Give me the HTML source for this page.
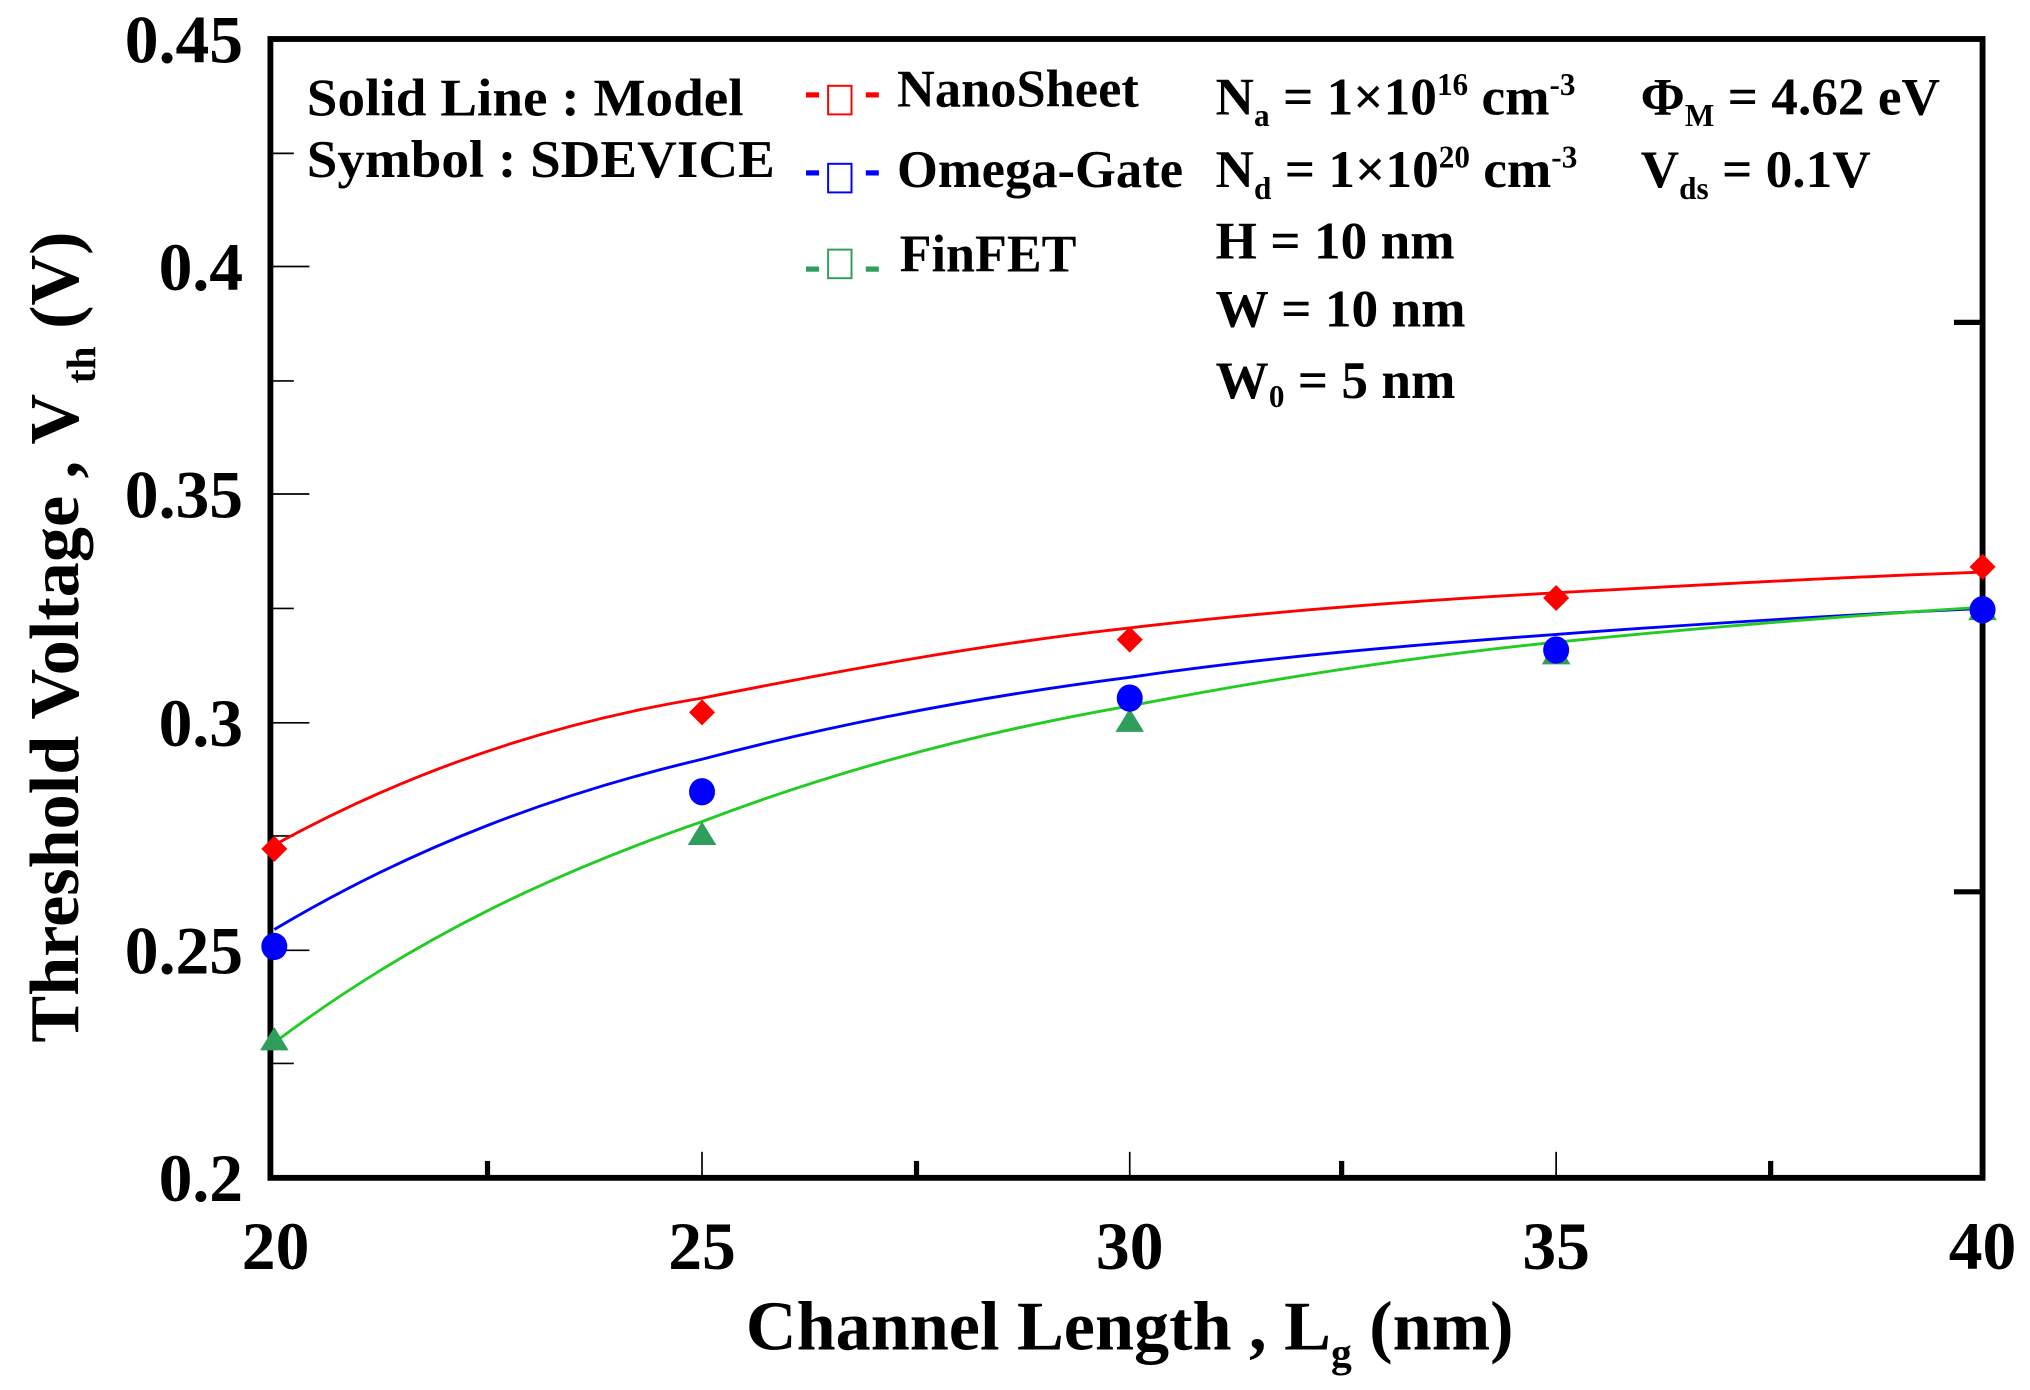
<!DOCTYPE html>
<html><head><meta charset="utf-8"><style>
html,body{margin:0;padding:0;background:#fff;}
svg{display:block;}
text{font-family:"Liberation Serif",serif;font-weight:bold;fill:#000;}
</style></head><body>
<svg width="2030" height="1390" viewBox="0 0 1561.5 1069.2" preserveAspectRatio="none" xmlns="http://www.w3.org/2000/svg">
<rect x="0" y="0" width="1561.5" height="1069.2" fill="#fff"/>
<rect x="208" y="30" width="1317" height="876" fill="none" stroke="#000" stroke-width="4.5"/>
<g stroke="#000" stroke-width="1.3">
<line x1="210" y1="118" x2="226" y2="118"/><line x1="210" y1="205" x2="238" y2="205"/>
<line x1="210" y1="293" x2="226" y2="293"/><line x1="210" y1="380" x2="238" y2="380"/>
<line x1="210" y1="468" x2="226" y2="468"/><line x1="210" y1="556" x2="238" y2="556"/>
<line x1="210" y1="643" x2="226" y2="643"/><line x1="210" y1="731" x2="238" y2="731"/>
<line x1="210" y1="818" x2="226" y2="818"/>
<line x1="540" y1="904" x2="540" y2="886"/><line x1="869" y1="904" x2="869" y2="886"/><line x1="1197" y1="904" x2="1197" y2="886"/>
</g>
<g stroke="#000" stroke-width="4">
<line x1="1523" y1="248" x2="1503" y2="248"/><line x1="1523" y1="686" x2="1503" y2="686"/>
<line x1="375" y1="904" x2="375" y2="893"/><line x1="705" y1="904" x2="705" y2="893"/>
<line x1="1032" y1="904" x2="1032" y2="893"/><line x1="1362" y1="904" x2="1362" y2="893"/>
</g>
<g font-size="52" text-anchor="end">
<text x="187" y="48">0.45</text><text x="187" y="223">0.4</text><text x="187" y="398">0.35</text>
<text x="187" y="574">0.3</text><text x="187" y="749">0.25</text><text x="187" y="924">0.2</text>
</g>
<g font-size="52" text-anchor="middle">
<text x="212" y="976">20</text><text x="540" y="976">25</text><text x="869" y="976">30</text>
<text x="1197" y="976">35</text><text x="1525" y="976">40</text>
</g>
<text x="869" y="1038" font-size="54" text-anchor="middle">Channel Length , L<tspan font-size="32" dy="13">g</tspan><tspan dy="-13"> (nm)</tspan></text>
<text transform="translate(60,490) rotate(-90)" font-size="54" text-anchor="middle">Threshold Voltage , V<tspan font-size="32" dy="13"> th</tspan><tspan dy="-13"> (V)</tspan></text>
<g fill="none" stroke-width="2.2">
<path d="M211,650 C320,590 430,555 540,537 C650,515 760,495 869,483 C978,470 1088,462 1197,456 C1306,450 1416,444 1525,440" stroke="#ff0000"/>
<path d="M211,715 C320,650 430,610 540,584 C650,555 760,535 869,521 C978,505 1088,496 1197,488 C1306,480 1416,473 1525,468" stroke="#0000ff"/>
<path d="M211,802 C320,720 430,670 540,632 C650,590 760,562 869,543 C978,522 1088,505 1197,494 C1306,483 1416,474 1525,467" stroke="#22cc22"/>
</g>
<g fill="#ff0000">
<polygon points="211,643 221,653 211,663 201,653"/><polygon points="540,538 550,548 540,558 530,548"/>
<polygon points="869,482 879,492 869,502 859,492"/><polygon points="1197,450 1207,460 1197,470 1187,460"/>
<polygon points="1525,426 1535,436 1525,446 1515,436"/>
</g>
<g fill="#2e9e5a">
<polygon points="211,790 222,808 200,808"/><polygon points="540,632 551,650 529,650"/>
<polygon points="869,545 880,563 858,563"/><polygon points="1197,493 1208,511 1186,511"/>
<polygon points="1525,459 1536,477 1514,477"/>
</g>
<g fill="#0000ff">
<ellipse cx="211" cy="728" rx="10" ry="10.5"/><ellipse cx="540" cy="609" rx="10" ry="10.5"/>
<ellipse cx="869" cy="537" rx="10" ry="10.5"/><ellipse cx="1197" cy="500" rx="10" ry="10.5"/>
<ellipse cx="1525" cy="469" rx="10" ry="10.5"/>
</g>
<g font-size="41">
<text x="236" y="89" textLength="336" lengthAdjust="spacingAndGlyphs">Solid Line : Model</text>
<text x="236" y="136" textLength="360" lengthAdjust="spacingAndGlyphs">Symbol : SDEVICE</text>
</g>
<g stroke-width="4">
<line x1="620" y1="73" x2="630" y2="73" stroke="#ff0000"/><line x1="666" y1="73" x2="676" y2="73" stroke="#ff0000"/>
<line x1="620" y1="133" x2="630" y2="133" stroke="#0000ff"/><line x1="666" y1="133" x2="676" y2="133" stroke="#0000ff"/>
<line x1="620" y1="207" x2="630" y2="207" stroke="#2e9e5a"/><line x1="666" y1="207" x2="676" y2="207" stroke="#2e9e5a"/>
</g>
<g fill="none" stroke-width="1.5">
<rect x="637" y="66" width="18" height="22" stroke="#ff0000"/>
<rect x="637" y="126" width="18" height="22" stroke="#0000ff"/>
<rect x="637" y="192" width="18" height="22" stroke="#2e9e5a"/>
</g>
<g font-size="41">
<text x="690" y="82" textLength="186" lengthAdjust="spacingAndGlyphs">NanoSheet</text>
<text x="690" y="144" textLength="220" lengthAdjust="spacingAndGlyphs">Omega-Gate</text>
<text x="692" y="209" textLength="136" lengthAdjust="spacingAndGlyphs">FinFET</text>
</g>
<g font-size="41">
<text x="935" y="88">N<tspan font-size="24" dy="9">a</tspan><tspan dy="-9"> = 1×10</tspan><tspan font-size="24" dy="-15">16</tspan><tspan dy="15"> cm</tspan><tspan font-size="24" dy="-15">-3</tspan></text>
<text x="935" y="144">N<tspan font-size="24" dy="9">d</tspan><tspan dy="-9"> = 1×10</tspan><tspan font-size="24" dy="-15">20</tspan><tspan dy="15"> cm</tspan><tspan font-size="24" dy="-15">-3</tspan></text>
<text x="935" y="199">H  = 10 nm</text>
<text x="935" y="251">W = 10 nm</text>
<text x="935" y="306">W<tspan font-size="24" dy="7">0</tspan><tspan dy="-7"> = 5 nm</tspan></text>
<text x="1262" y="88">Φ<tspan font-size="24" dy="9">M</tspan><tspan dy="-9"> =  4.62 eV</tspan></text>
<text x="1262" y="144">V<tspan font-size="24" dy="9">ds</tspan><tspan dy="-9"> =  0.1V</tspan></text>
</g>
</svg>
</body></html>
